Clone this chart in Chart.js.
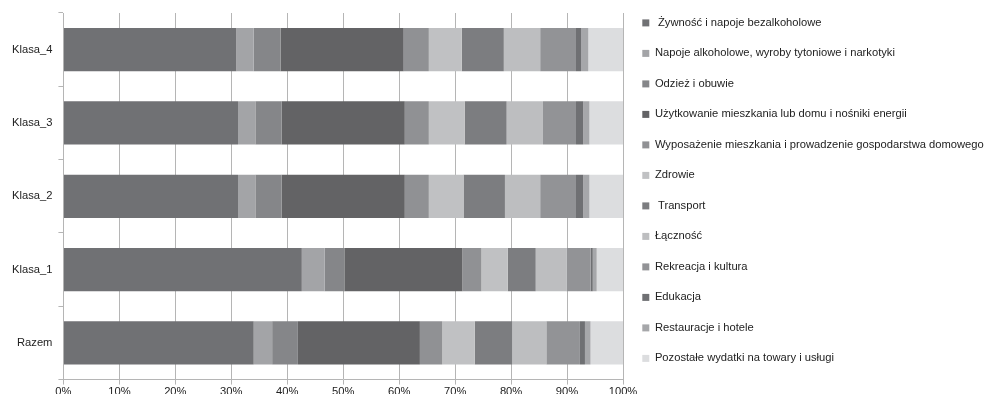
<!DOCTYPE html>
<html>
<head>
<meta charset="utf-8">
<script src="https://cdn.jsdelivr.net/npm/chart.js@4/dist/chart.umd.min.js"></script>
<style>
  html, body { margin: 0; padding: 0; background: #fff; }
  #wrap { width: 985px; height: 394px; overflow: hidden; position: relative; }
  #box { width: 985px; height: 400px; }
</style>
</head>
<body>
<div id="wrap"><div id="box"><canvas id="c"></canvas></div></div>
<script>
// Household expenditure structure by class (% of total spending)
const categories = ['Klasa_4', 'Klasa_3', 'Klasa_2', 'Klasa_1', 'Razem'];

const seriesNames = [
  ' Żywność i napoje bezalkoholowe',
  'Napoje alkoholowe, wyroby tytoniowe i narkotyki',
  'Odzież i obuwie',
  'Użytkowanie mieszkania lub domu i nośniki energii',
  'Wyposażenie mieszkania i prowadzenie gospodarstwa domowego',
  'Zdrowie',
  ' Transport',
  'Łączność',
  'Rekreacja i kultura',
  'Edukacja',
  'Restauracje i hotele',
  'Pozostałe wydatki na towary i usługi'
];

// one array per expenditure group, in category order
const zywnosc      = [30.9, 31.2, 31.2, 42.6, 34.0];
const alkohol      = [3.1, 3.1, 3.1, 4.1, 3.3];
const odziez       = [4.8, 4.7, 4.7, 3.5, 4.6];
const mieszkanie   = [22.0, 22.0, 22.0, 21.1, 21.8];
const wyposazenie  = [4.5, 4.3, 4.3, 3.4, 4.0];
const zdrowie      = [5.9, 6.4, 6.2, 4.7, 5.8];
const transport    = [7.5, 7.5, 7.4, 5.0, 6.7];
const lacznosc     = [6.5, 6.5, 6.3, 5.5, 6.1];
const rekreacja    = [6.4, 5.9, 6.4, 4.3, 6.0];
const edukacja     = [0.9, 1.3, 1.3, 0.4, 0.9];
const restauracje  = [1.3, 1.1, 1.1, 0.7, 1.0];
const pozostale    = [6.2, 6.0, 6.0, 4.7, 5.8];

const seriesValues = [zywnosc, alkohol, odziez, mieszkanie, wyposazenie, zdrowie,
                      transport, lacznosc, rekreacja, edukacja, restauracje, pozostale];

const xTicks = [0, 10, 20, 30, 40, 50, 60, 70, 80, 90, 100];

const colors = ['#707174', '#a3a4a7', '#858689', '#636365', '#909194', '#c0c1c3',
                '#7c7d80', '#bdbec0', '#929396', '#6f7073', '#a6a7aa', '#dcdddf'];

const datasets = seriesNames.map((name, i) => ({
  label: name,
  data: seriesValues[i],
  backgroundColor: colors[i],
  borderWidth: 0,
  barPercentage: 0.59,
  categoryPercentage: 1.0
}));

const font = { family: '"Liberation Sans", Arial, sans-serif', size: 11.2 };

new Chart(document.getElementById('c'), {
  type: 'bar',
  data: { labels: categories, datasets },
  options: {
    indexAxis: 'y',
    responsive: true,
    maintainAspectRatio: false,
    animation: false,
    layout: { padding: { top: -2, left: 6, right: 0, bottom: 0 } },
    plugins: {
      tooltip: { enabled: false },
      // empty spacer above the plot area only
      title: {
        display: true,
        text: '',
        fullSize: false,
        padding: 0,
        font: { size: 1, lineHeight: 15 }
      },
      legend: {
        position: 'right',
        align: 'start',
        maxWidth: 362,
        labels: {
          font,
          color: '#222',
          boxWidth: 7,
          boxHeight: 7,
          padding: 19.3
        }
      }
    },
    scales: {
      x: {
        stacked: true,
        min: 0,
        max: 100,
        afterBuildTicks: axis => { axis.ticks = xTicks.map(v => ({ value: v })); },
        ticks: {
          font,
          color: '#222',
          padding: 1,
          callback: v => v + '%'
        },
        grid: { color: '#b5b5b5', lineWidth: 1, tickLength: 5, drawOnChartArea: true },
        border: { color: '#b5b5b5' }
      },
      y: {
        stacked: true,
        ticks: { font, color: '#222', padding: 6 },
        grid: { offset: true, color: '#b5b5b5', drawOnChartArea: false, tickLength: 5 },
        border: { color: '#b5b5b5' }
      }
    }
  }
});
</script>
</body>
</html>
